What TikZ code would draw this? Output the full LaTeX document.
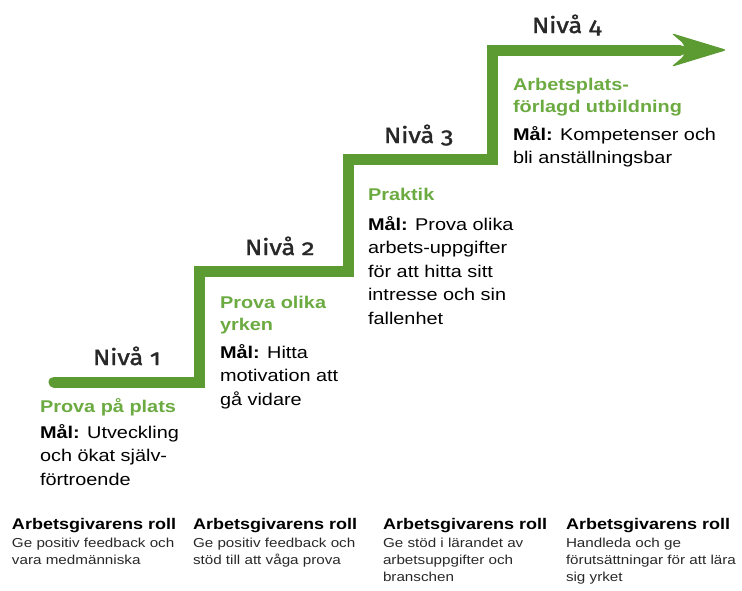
\documentclass[tikz,border=0pt]{standalone}
\usepackage{fontspec}
\setmainfont{Liberation Sans}[FakeStretch=1.17]
\newfontfamily\nivafont{Fira Sans}[Numbers=OldStyle,FakeStretch=1.15,FakeBold=1.6]
\definecolor{stairgreen}{RGB}{92,154,50}
\definecolor{titlegreen}{RGB}{108,170,66}
\definecolor{nivagray}{RGB}{40,40,40}
\definecolor{bodygray}{RGB}{40,40,40}
\tikzset{
  txt/.style={anchor=base west,inner sep=0pt,outer sep=0pt},
  niva/.style={txt,text=nivagray,font=\nivafont\fontsize{22}{26}\selectfont},
  title/.style={txt,text=titlegreen,font=\bfseries\fontsize{17}{22}\selectfont},
  goal/.style={txt,text=black,font=\fontsize{17}{23.5}\selectfont},
  rolehead/.style={txt,text=black,font=\bfseries\fontsize{15.4}{18}\selectfont},
  rolebody/.style={txt,text=bodygray,font=\fontsize{13}{17}\selectfont},
  stair/.style={draw=stairgreen,line width=11pt,line join=miter},
}
\newcommand{\blk}[1]{\parbox[t]{220pt}{\raggedright #1}}
\begin{document}
\begin{tikzpicture}[x=1pt,y=-1pt]
\useasboundingbox (0,0) rectangle (742,590);
% staircase
\coordinate (s0) at (54,382);
\coordinate (s1) at (199,382);
\coordinate (s2) at (199,271);
\coordinate (s3) at (348,271);
\coordinate (s4) at (348,159);
\coordinate (s5) at (492,159);
\coordinate (s6) at (492,50);
\coordinate (s7) at (680,50);
\draw[stair,line cap=round] (s0) -- (s1) -- (s2) -- (s3) -- (s4) -- (s5) -- (s6) -- (s7);
\fill[stairgreen,rounded corners=3pt] (671,33) -- (727,50) -- (671,67) -- (684,56) -- (684,44) -- cycle;
% level labels
\node[niva] (n1) at (93,365) {Nivå 1};
\node[niva] (n2) at (245,255) {Nivå 2};
\node[niva] (n3) at (384,143) {Nivå 3};
\node[niva] (n4) at (532,33) {Nivå 4};
% column 1
\node[title] (t1) at (40,412) {Prova på plats};
\node[goal] (g1) at (40,438) {\blk{\textbf{Mål:} Utveckling\\och ökat själv-\\förtroende}};
% column 2
\node[title] (t2) at (220,308) {\blk{Prova olika\\yrken}};
\node[goal] (g2) at (220,358) {\blk{\textbf{Mål:} Hitta\\motivation att\\gå vidare}};
% column 3
\node[title] (t3) at (368,200) {Praktik};
\node[goal] (g3) at (368,230) {\blk{\textbf{Mål:} Prova olika\\arbets-uppgifter\\för att hitta sitt\\intresse och sin\\fallenhet}};
% column 4
\node[title] (t4) at (513,90) {\blk{Arbetsplats-\\förlagd utbildning}};
\node[goal] (g4) at (513,140) {\blk{\textbf{Mål:} Kompetenser och\\bli anställningsbar}};
% employer roles
\node[rolehead] (r1) at (12,529) {Arbetsgivarens roll};
\node[rolehead] (r2) at (193,529) {Arbetsgivarens roll};
\node[rolehead] (r3) at (383,529) {Arbetsgivarens roll};
\node[rolehead] (r4) at (566,529) {Arbetsgivarens roll};
\node[rolebody] (b1) at (12,547) {\blk{Ge positiv feedback och\\vara medmänniska}};
\node[rolebody] (b2) at (193,547) {\blk{Ge positiv feedback och\\stöd till att våga prova}};
\node[rolebody] (b3) at (383,547) {\blk{Ge stöd i lärandet av\\arbetsuppgifter och\\branschen}};
\node[rolebody] (b4) at (566,547) {\blk{Handleda och ge\\förutsättningar för att lära\\sig yrket}};
\end{tikzpicture}
\end{document}
